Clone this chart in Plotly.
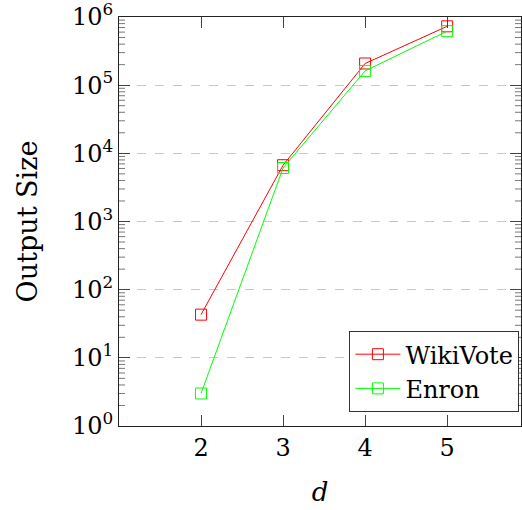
import plotly.graph_objects as go

# Output size of the d-hop query on two graphs
d_values = [2, 3, 4, 5]
wikivote = [43, 6700, 2.08e5, 7.3e5]
enron = [3, 6100, 1.62e5, 6.2e5]

x_tickvals = [2, 3, 4, 5]
y_exponents = [0, 1, 2, 3, 4, 5, 6]
y_tickvals = [10 ** e for e in y_exponents]
y_ticktext = [f"10<sup>{e}</sup>" for e in y_exponents]
y_minor = [k * 10 ** e for e in y_exponents[:-1] for k in range(2, 10)]

FONT = "DejaVu Serif"
Y_RANGE = [0, 6]
PLOT_W = 522 - 119 - 1
MINOR_LEN = 6 / PLOT_W  # minor tick length as a fraction of the plot width

fig = go.Figure()
fig.add_trace(go.Scatter(
    x=d_values, y=wikivote, name="WikiVote", mode="lines+markers",
    line=dict(color="#ff0000", width=1),
    marker=dict(symbol="square-open", size=11, color="#ff0000", line=dict(width=1)),
))
fig.add_trace(go.Scatter(
    x=d_values, y=enron, name="Enron", mode="lines+markers",
    line=dict(color="#00ff00", width=1),
    marker=dict(symbol="square-open", size=11, color="#00ff00", line=dict(width=1)),
))

# minor log ticks on both vertical spines
for v in y_minor:
    for x0, x1 in ((0, MINOR_LEN), (1 - MINOR_LEN, 1)):
        fig.add_shape(type="line", xref="paper", yref="y", x0=x0, x1=x1, y0=v, y1=v,
                      line=dict(color="#777777", width=1), layer="above")

fig.update_layout(
    width=522, height=510,
    margin=dict(l=119, r=1, t=17, b=84),
    paper_bgcolor="white", plot_bgcolor="white",
    font=dict(family=FONT, size=24, color="black"),
    showlegend=True,
    legend=dict(
        x=0.996, y=0.034, xanchor="right", yanchor="bottom",
        bgcolor="white", bordercolor="#333333", borderwidth=1,
        font=dict(family=FONT, size=24),
        itemwidth=45, tracegroupgap=0,
    ),
    xaxis=dict(
        range=[1, 5.9], tickvals=x_tickvals, ticktext=[str(v) for v in x_tickvals],
        ticks="inside", ticklen=11, tickcolor="#444444", tickwidth=1,
        showline=True, linecolor="#222222", linewidth=1, mirror="ticks",
        showgrid=False, zeroline=False, automargin=False,
        tickfont=dict(family=FONT, size=24),
        title=dict(text="<i>d</i>", font=dict(family=FONT, size=26), standoff=22),
    ),
    yaxis=dict(
        type="log", range=Y_RANGE, tickvals=y_tickvals, ticktext=y_ticktext,
        ticklabeloverflow="allow", automargin=False,
        ticks="inside", ticklen=11, tickcolor="#444444", tickwidth=1,
        showline=True, linecolor="#222222", linewidth=1, mirror="ticks",
        showgrid=True, gridcolor="#c8c8c8", griddash="dash", gridwidth=1,
        zeroline=False,
        tickfont=dict(family=FONT, size=24),
        title=dict(text="Output Size", font=dict(family=FONT, size=27), standoff=26),
    ),
)

fig.write_html("out.html")
